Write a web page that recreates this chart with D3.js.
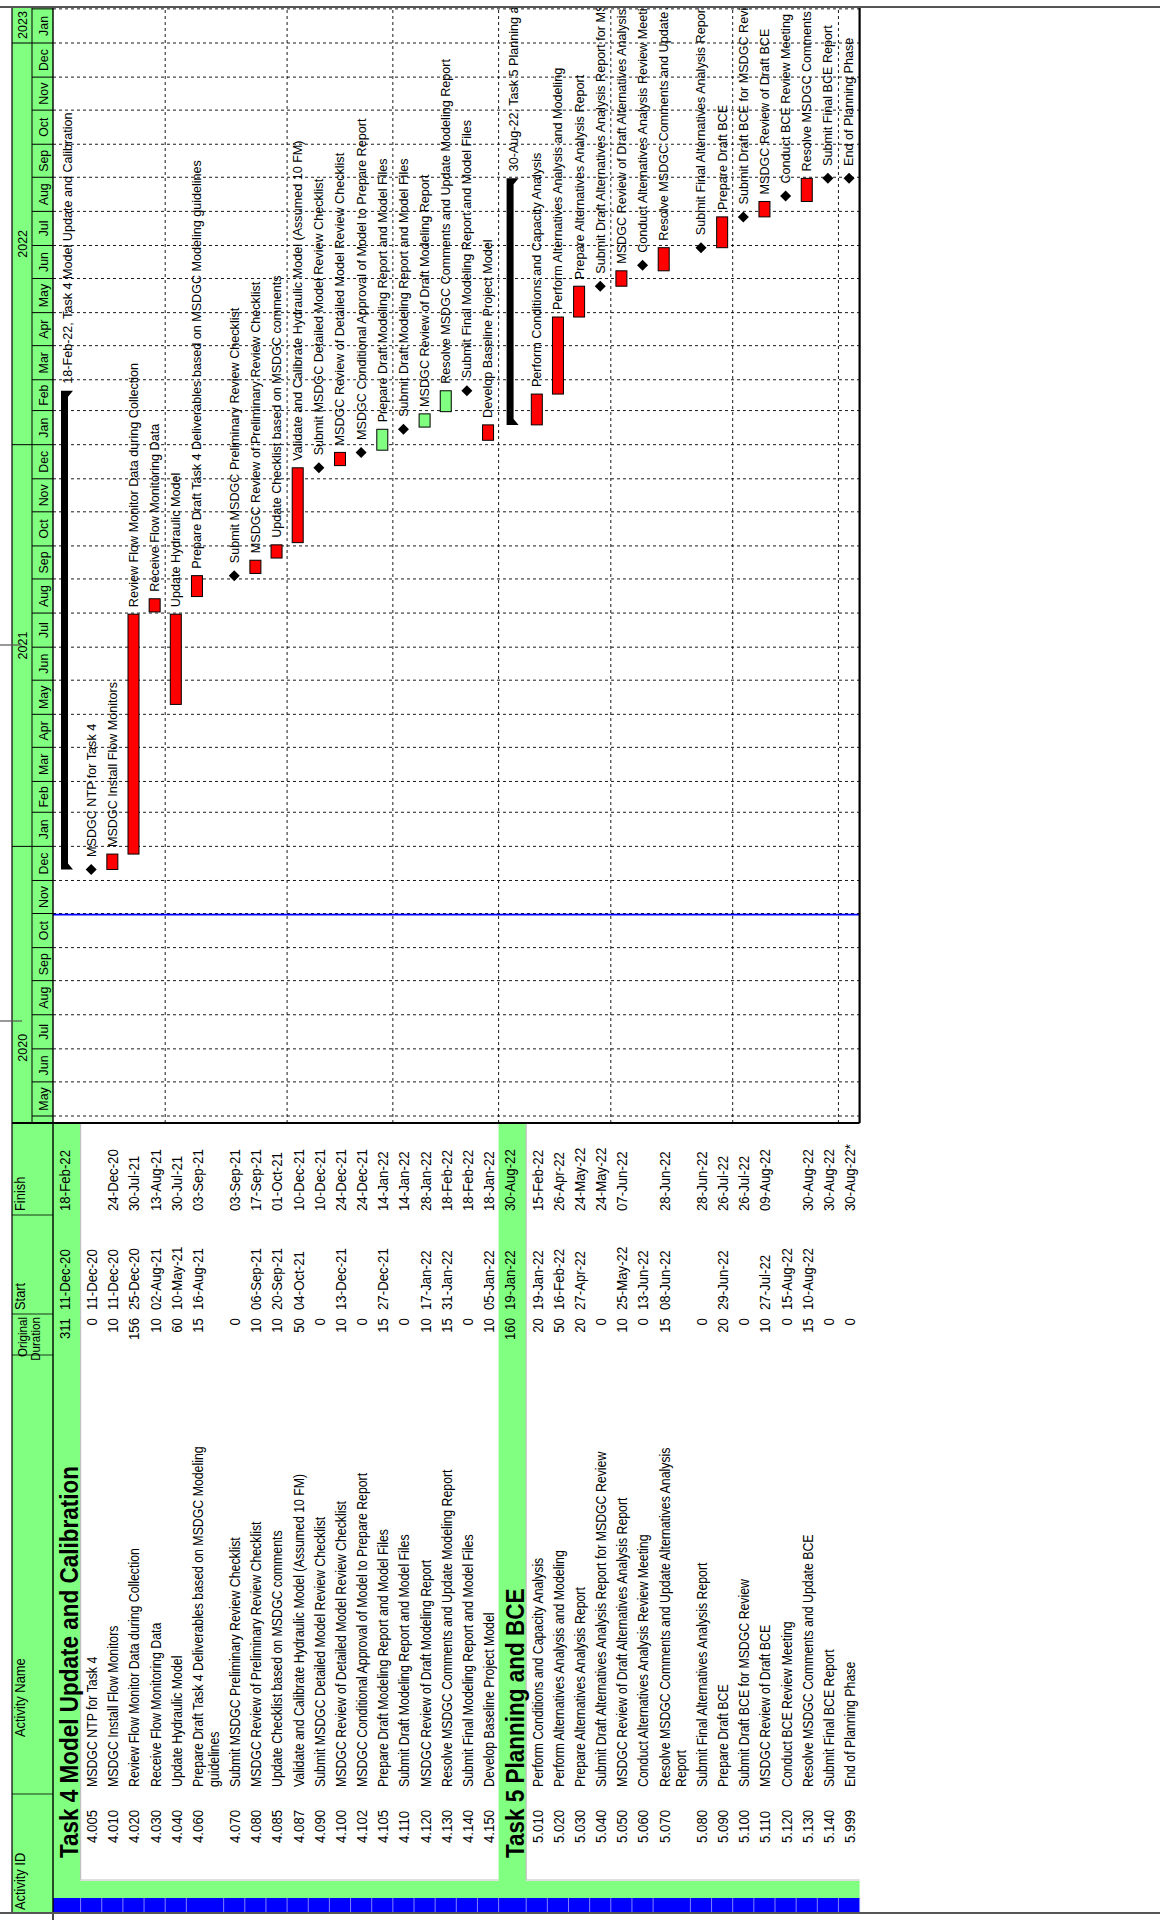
<!DOCTYPE html>
<html><head><meta charset="utf-8">
<script src="https://cdn.jsdelivr.net/npm/d3@7"></script>
<style>html,body{margin:0;padding:0;background:#fff}svg{display:block}</style>
</head><body>
<svg id="c" width="1160" height="1923"></svg>
<script>
// ---------------- DATA ----------------
const activityIds = ["", "4.005","4.010","4.020","4.030","4.040","4.060","4.070","4.080","4.085","4.087","4.090","4.100","4.102","4.105","4.110","4.120","4.130","4.140","4.150",
  "", "5.010","5.020","5.030","5.040","5.050","5.060","5.070","5.080","5.090","5.100","5.110","5.120","5.130","5.140","5.999"];
const activityNames = ["Task 4 Model Update and Calibration",
  "MSDGC NTP for Task 4","MSDGC Install Flow Monitors","Review Flow Monitor Data during Collection","Receive Flow Monitoring Data","Update Hydraulic Model",
  "Prepare Draft Task 4 Deliverables based on MSDGC Modeling\nguidelines","Submit MSDGC Preliminary Review Checklist","MSDGC Review of Preliminary Review Checklist",
  "Update Checklist based on MSDGC comments","Validate and Calibrate Hydraulic Model (Assumed 10 FM)","Submit MSDGC Detailed Model Review Checklist",
  "MSDGC Review of Detailed Model Review Checklist","MSDGC Conditional Approval of Model to Prepare Report","Prepare Draft Modeling Report and Model Files",
  "Submit Draft Modeling Report and Model Files","MSDGC Review of Draft Modeling Report","Resolve MSDGC Comments and Update Modeling Report",
  "Submit Final Modeling Report and Model Files","Develop Baseline Project Model",
  "Task 5 Planning and BCE",
  "Perform Conditions and Capacity Analysis","Perform Alternatives Analysis and Modeling","Prepare Alternatives Analysis Report",
  "Submit Draft Alternatives Analysis Report for MSDGC Review","MSDGC Review of Draft Alternatives Analysis Report","Conduct Alternatives Analysis Review Meeting",
  "Resolve MSDGC Comments and Update Alternatives Analysis\nReport","Submit Final Alternatives Analysis Report","Prepare Draft BCE",
  "Submit Draft BCE for MSDGC Review","MSDGC Review of Draft BCE","Conduct BCE Review Meeting","Resolve MSDGC Comments and Update BCE",
  "Submit Final BCE Report","End of Planning Phase"];
const durations = ["311","0","10","156","10","60","15","0","10","10","50","0","10","0","15","0","10","15","0","10",
  "160","20","50","20","0","10","0","15","0","20","0","10","0","15","0","0"];
const startDates = ["11-Dec-20","11-Dec-20","11-Dec-20","25-Dec-20","02-Aug-21","10-May-21","16-Aug-21","","06-Sep-21","20-Sep-21","04-Oct-21","","13-Dec-21","","27-Dec-21","","17-Jan-22","31-Jan-22","","05-Jan-22",
  "19-Jan-22","19-Jan-22","16-Feb-22","27-Apr-22","","25-May-22","13-Jun-22","08-Jun-22","","29-Jun-22","","27-Jul-22","15-Aug-22","10-Aug-22","",""];
const finishDates = ["18-Feb-22","","24-Dec-20","30-Jul-21","13-Aug-21","30-Jul-21","03-Sep-21","03-Sep-21","17-Sep-21","01-Oct-21","10-Dec-21","10-Dec-21","24-Dec-21","24-Dec-21","14-Jan-22","14-Jan-22","28-Jan-22","18-Feb-22","18-Feb-22","18-Jan-22",
  "30-Aug-22","15-Feb-22","26-Apr-22","24-May-22","24-May-22","07-Jun-22","","28-Jun-22","28-Jun-22","26-Jul-22","26-Jul-22","09-Aug-22","","30-Aug-22","30-Aug-22","30-Aug-22*"];
// kinds: wbs summary, bar, start milestone, finish milestone
const barKinds = ["wbs","msS","bar","bar","bar","bar","bar","msF","bar","bar","bar","msF","bar","msF","bar","msF","bar","bar","msF","bar",
  "wbs","bar","bar","bar","msF","bar","msS","bar","msF","bar","msF","bar","msS","bar","msF","msF"];
const barColorKeys = ["","","crit","crit","crit","crit","crit","","crit","crit","crit","","crit","","near","","near","near","","crit",
  "","crit","crit","crit","","crit","","crit","","crit","","crit","","crit","",""];
const dataDate = "31-Oct-20";
const monthNames = ["Jan","Feb","Mar","Apr","May","Jun","Jul","Aug","Sep","Oct","Nov","Dec"];
const yearLabels = ["2020","2021","2022","2023"];
const columnHeaders = ["Activity ID","Activity Name","Original\nDuration","Start","Finish"];

// ---------------- LAYOUT ----------------
const W = 1160, H = 1923;
const GREEN = "#80FF80", RED = "#FF0000", BLUE = "#0000FF";
const FONT = "'Liberation Sans', Arial, Helvetica, sans-serif";
const parse = d3.utcParse("%d-%b-%y");
const DAY = 864e5;
const x = d3.scaleUtc().domain([Date.UTC(2020,4,1), Date.UTC(2023,0,1)]).range([807, 1880]);
const U0 = 800, U1 = 1916;
const V0 = 53, VT = 12, VM = 32;

const svg = d3.select("#c");
const root = svg.append("g").attr("transform", `translate(0,${H}) rotate(-90)`);

const rows = activityIds.map((id, i) => ({
  i, id, name: activityNames[i], dur: durations[i], start: startDates[i], finish: finishDates[i],
  kind: barKinds[i], color: barColorKeys[i]
}));
let vv = V0;
rows.forEach(r => {
  r.h = r.kind === "wbs" ? 27.6 : (r.name.includes("\n") ? 37.3 : 21.15);
  r.top = vv; vv += r.h; r.bot = vv;
  r.mid = r.top + (r.kind === "wbs" ? 11.5 : 10.6);
});
const VEND = vv;

const defs = svg.append("defs");
defs.append("clipPath").attr("id","gclip").append("rect")
  .attr("x", U0).attr("y", V0).attr("width", U1 - U0).attr("height", VEND - V0);
defs.append("clipPath").attr("id","hclip").append("rect")
  .attr("x", U0).attr("y", VT).attr("width", U1 - U0).attr("height", V0 - VT);

// ---------- backgrounds ----------
root.append("rect").attr("x",10).attr("y",VT).attr("width",U1-10).attr("height",V0-VT).attr("fill",GREEN);
root.append("rect").attr("x",10).attr("y",V0).attr("width",15).attr("height",VEND-V0).attr("fill",BLUE);
root.append("rect").attr("x",25).attr("y",V0).attr("width",17).attr("height",VEND-V0).attr("fill",GREEN);
rows.forEach(r => {
  root.append("rect").attr("x",42).attr("y",r.top).attr("width",U0-42).attr("height",r.h)
    .attr("fill", r.kind === "wbs" ? GREEN : "#fff");
});
[[1,19],[21,35]].forEach(([a,b]) => {
  const t = rows[a].top, bo = rows[b].bot;
  root.append("path").attr("d",`M43,${bo}V${t}H${U0}`).attr("fill","none").attr("stroke","#c0c0c0").attr("stroke-width",1.2);
});
rows.forEach(r => {
  root.append("line").attr("x1",10).attr("x2",25).attr("y1",r.bot).attr("y2",r.bot).attr("stroke","#8080ff").attr("stroke-width",1);
});

// ---------- gantt grid ----------
const gGrid = root.append("g").attr("clip-path","url(#gclip)");
const months = d3.utcMonth.range(Date.UTC(2020,3,1), Date.UTC(2023,2,1));
months.forEach(m => {
  const u = x(m);
  if (u <= U0 || u >= U1) return;
  gGrid.append("line").attr("x1",u).attr("x2",u).attr("y1",V0).attr("y2",VEND)
    .attr("stroke","#000").attr("stroke-width",0.9).attr("stroke-dasharray","3,3");
});
rows.forEach((r, i) => {
  if (i % 5 === 4 && i < rows.length - 1) {
    gGrid.append("line").attr("x1",U0).attr("x2",U1).attr("y1",r.bot).attr("y2",r.bot)
      .attr("stroke","#000").attr("stroke-width",0.9).attr("stroke-dasharray","3,3");
  }
});
gGrid.append("line").attr("x1",x(parse(dataDate))).attr("x2",x(parse(dataDate))).attr("y1",V0).attr("y2",VEND)
  .attr("stroke",BLUE).attr("stroke-width",1.6);

// ---------- bars ----------
const gBars = root.append("g").attr("clip-path","url(#gclip)");
const labelFont = 12.6, GAP = 7;
function barLabel(u, v, txt) {
  gBars.append("text").attr("x", u).attr("y", v + 4.4).attr("font-family", FONT)
    .attr("font-size", labelFont).attr("fill","#000").text(txt);
}
rows.forEach(r => {
  const fin = r.finish ? parse(r.finish.replace("*","")) : null;
  const st = r.start ? parse(r.start) : null;
  if (r.kind === "wbs") {
    const u0 = x(st), u1 = x(new Date(+fin + DAY));
    const a = r.mid - 3.5, b = r.mid + 3.5;
    gBars.append("path")
      .attr("d", `M${u0},${a}H${u1}V${b+5}L${u1-6},${b}H${u0+6}L${u0},${b+5}Z`)
      .attr("fill","#000");
    barLabel(u1 + GAP, r.mid + 3, `${r.finish}, ${r.name}`);
  } else if (r.kind === "bar") {
    const u0 = x(st), u1 = x(new Date(+fin + DAY));
    gBars.append("rect").attr("x",u0).attr("y",r.mid-5.5).attr("width",u1-u0).attr("height",11)
      .attr("fill", r.color === "near" ? GREEN : RED).attr("stroke","#000").attr("stroke-width",1);
    barLabel(u1 + GAP, r.mid, r.name.replace("\n"," "));
  } else {
    const d = r.kind === "msS" ? st : new Date(+fin + DAY);
    const u = x(d), s = 5.5;
    gBars.append("path").attr("d",`M${u-s},${r.mid}L${u},${r.mid-s}L${u+s},${r.mid}L${u},${r.mid+s}Z`).attr("fill","#000");
    barLabel(u + s + GAP, r.mid, r.name.replace("\n"," "));
  }
});

// ---------- timescale ----------
const gTs = root.append("g").attr("clip-path","url(#hclip)");
months.forEach(m => {
  const next = d3.utcMonth.offset(m, 1);
  const ua = x(m), ub = x(next);
  gTs.append("line").attr("x1",ua).attr("x2",ua).attr("y1",VM).attr("y2",V0).attr("stroke","#000").attr("stroke-width",1);
  gTs.append("text").attr("x",(ua+ub)/2).attr("y",47.5).attr("text-anchor","middle")
    .attr("font-family",FONT).attr("font-size",12.4).text(monthNames[m.getUTCMonth()]);
});
yearLabels.forEach(yl => {
  const ya = Date.UTC(+yl,0,1), yb = Date.UTC(+yl+1,0,1);
  const ua = x(ya), ub = Math.min(x(yb), U1);
  gTs.append("line").attr("x1",ua).attr("x2",ua).attr("y1",VT).attr("y2",VM).attr("stroke","#000").attr("stroke-width",1);
  gTs.append("text").attr("x",(ua+ub)/2).attr("y",27).attr("text-anchor","middle")
    .attr("font-family",FONT).attr("font-size",12.5).text(yl);
});
root.append("line").attr("x1",U0).attr("x2",U1).attr("y1",VM).attr("y2",VM).attr("stroke","#000").attr("stroke-width",1);

// ---------- table text ----------
const gT = root.append("g");
function tText(u, v, str, o = {}) {
  gT.append("text").attr("transform",`translate(${u},${v}) scale(${o.sx || 0.86},1)`)
    .attr("text-anchor", o.anchor || "start").attr("font-family", FONT)
    .attr("font-size", o.size || 15.4).attr("font-weight", o.bold ? "bold" : null)
    .attr("fill","#000").text(str);
}
const colID = 80, colHead = 65, colName = 136, colDurEnd = 605, colStart = 613, colFinish = 712;
rows.forEach(r => {
  const b = r.top + 16.5;
  if (r.kind === "wbs") {
    tText(colHead, r.top + 25, r.name, {size: 25, bold: true, sx: 0.9});
  } else {
    tText(colID, b, r.id);
    r.name.split("\n").forEach((ln, k) => tText(colName, b + k * 16.2, ln, {sx: 0.8}));
  }
  tText(colDurEnd, b, r.dur, {anchor:"end"});
  if (r.start) tText(colStart, b, r.start);
  if (r.finish) tText(colFinish, b, r.finish);
});
const hdrSeps = [129, 568, 609, 708];
hdrSeps.forEach(u => root.append("line").attr("x1",u).attr("x2",u).attr("y1",VT).attr("y2",V0).attr("stroke","#000").attr("stroke-width",0.8));
tText(13, 24.5, columnHeaders[0], {size: 15});
tText(186, 24.5, columnHeaders[1], {size: 15});
columnHeaders[2].split("\n").forEach((ln,k) => tText(606, 26.5 + k*13, ln, {size: 13.5, anchor:"end"}));
tText(613, 24.5, columnHeaders[3], {size: 15});
tText(712, 24.5, columnHeaders[4], {size: 15});

// ---------- frame lines ----------
const ln = (x1,y1,x2,y2,c,w) => root.append("line").attr("x1",x1).attr("y1",y1).attr("x2",x2).attr("y2",y2).attr("stroke",c).attr("stroke-width",w);
ln(10, VT, U1, VT, "#000", 1.2);
ln(3, V0, U1, V0, "#000", 1.4);
ln(U0, VT, U0, VEND, "#000", 2.2);
ln(U0, VEND, U1, VEND, "#000", 2.2);
ln(U1, 0, U1, W, "#555", 2.2);
ln(10, 0, 10, W, "#555", 2.2);
ln(1278, 0, 1278, 22, "#555", 1.2);
ln(902, 0, 902, 22, "#555", 1.2);
</script>
</body></html>
